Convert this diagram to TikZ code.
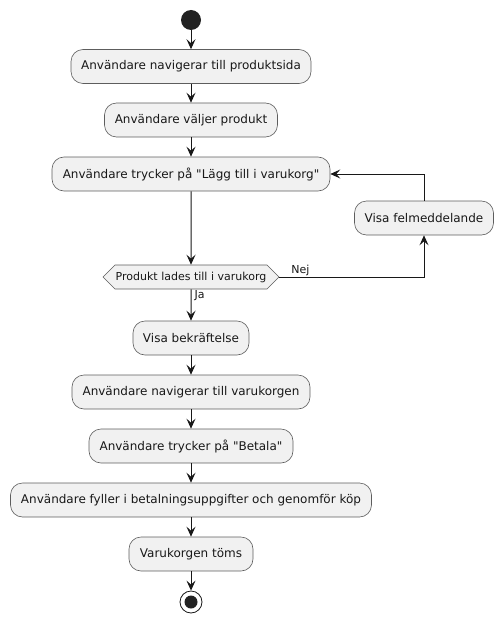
\documentclass[tikz,border=0pt]{standalone}
\usepackage{fontspec}
\setmainfont{DejaVu Sans}[Ligatures=TeXOff]
\usetikzlibrary{arrows.meta,shapes.symbols}
\definecolor{boxfill}{HTML}{F1F1F1}
\definecolor{boxline}{HTML}{181818}
\definecolor{dotfill}{HTML}{222222}
\begin{document}
\begin{tikzpicture}[x=1pt,y=-1pt,
  act/.style={draw=boxline!70, line width=0.6pt, fill=boxfill, rounded corners=12pt,
    minimum height=34pt, inner xsep=0pt, font=\fontsize{12}{14}\selectfont, text=boxline},
  decis/.style={draw=boxline!70, line width=0.6pt, fill=boxfill, shape=signal,
    signal to=west and east, signal pointer angle=90, minimum height=24pt,
    inner xsep=0pt, inner ysep=2pt, font=\fontsize{11}{12}\selectfont, text=boxline},
  flow/.style={draw=boxline, line width=1pt, -{Stealth[length=10pt,width=9pt,inset=4pt]}},
  lbl/.style={font=\fontsize{11}{12}\selectfont, text=boxline, inner sep=0pt}
]
\useasboundingbox (0,0) rectangle (503,623);
\node[circle, fill=dotfill, minimum size=20pt, inner sep=0pt] (start) at (191,20) {};
\node[act, minimum width=240pt] (a1) at (191,66.5) {Användare navigerar till produktsida};
\node[act, minimum width=173pt] (a2) at (191,120) {Användare väljer produkt};
\node[act, minimum width=278pt] (a3) at (191,174) {Användare trycker på "Lägg till i varukorg"};
\node[decis, minimum width=176pt] (d) at (191,277) {Produkt lades till i varukorg};
\node[act, minimum width=139pt] (fel) at (424,218) {Visa felmeddelande};
\node[act, minimum width=116pt] (a4) at (191,338) {Visa bekräftelse};
\node[act, minimum width=238pt] (a5) at (191,392) {Användare navigerar till varukorgen};
\node[act, minimum width=204pt] (a6) at (191,446) {Användare trycker på "Betala"};
\node[act, minimum width=361pt] (a7) at (191,500) {Användare fyller i betalningsuppgifter och genomför köp};
\node[act, minimum width=124pt] (a8) at (191,554) {Varukorgen töms};
\node[circle, draw=boxline, line width=0.8pt, fill=white, minimum size=22pt, inner sep=0pt] (stop) at (191,602) {};
\node[circle, fill=dotfill, minimum size=13pt, inner sep=0pt] at (stop.center) {};

\draw[flow] (start) -- (a1);
\draw[flow] (a1) -- (a2);
\draw[flow] (a2) -- (a3);
\draw[flow] (a3) -- (d);
\draw[flow] (d) -- node[lbl, pos=0.2, anchor=west, xshift=3pt] {Ja} (a4);
\draw[flow] (d.east) -| node[lbl, pos=0.04, anchor=south west, yshift=1pt] {Nej} (fel.south);
\draw[flow] (fel.north) |- (a3.east);
\draw[flow] (a4) -- (a5);
\draw[flow] (a5) -- (a6);
\draw[flow] (a6) -- (a7);
\draw[flow] (a7) -- (a8);
\draw[flow] (a8) -- (stop);
\end{tikzpicture}
\end{document}
